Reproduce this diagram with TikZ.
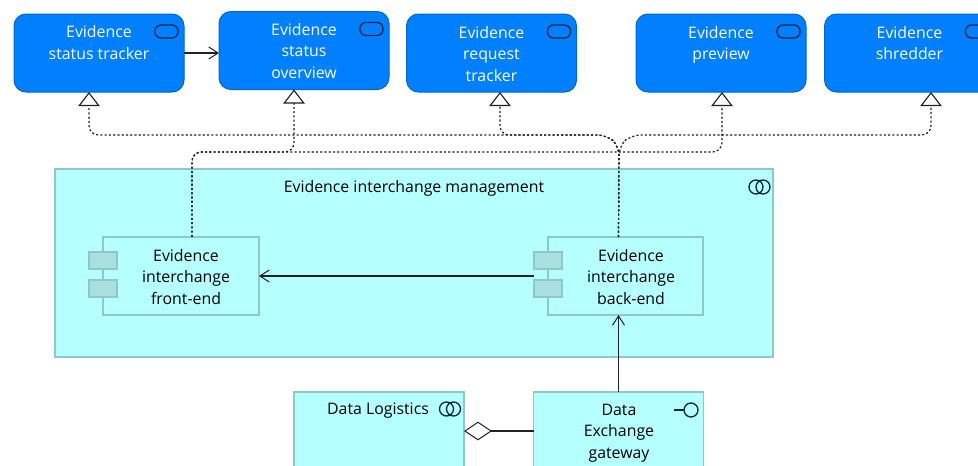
\documentclass[tikz,border=0pt]{standalone}
\usepackage{fontspec}
\setmainfont{Open Sans}
\usetikzlibrary{arrows.meta,calc}
\definecolor{svcblue}{HTML}{0080FF}
\definecolor{svcedge}{HTML}{0066CC}
\definecolor{lightcyan}{HTML}{B5FFFF}
\definecolor{cyanedge}{HTML}{90C8C8}
\definecolor{portfill}{HTML}{A8E0E0}
\definecolor{linedark}{HTML}{222222}
\definecolor{icondark}{HTML}{0B2545}
\newcommand{\svcicon}[1]{\draw[iconline,rounded corners=4.5pt] ([shift={(-29,11)}]#1.north east) rectangle ++(23,13);}
\newcommand{\collabicon}[2]{\draw[iconline] (#1-3.5,#2) circle[radius=7] (#1+3.5,#2) circle[radius=7];}
\tikzset{
  x=0.75pt,y=-0.75pt,
  every node/.style={font=\fontsize{11.9}{16.25}\selectfont,align=center,inner sep=0pt,outer sep=0pt},
  svc/.style={draw=svcedge,fill=svcblue,line width=0.75pt,rounded corners=9pt,minimum width=127.5pt,minimum height=58.5pt},
  boxcyan/.style={draw=cyanedge,fill=lightcyan,line width=0.9pt},
  port/.style={draw=cyanedge,fill=portfill,line width=0.9pt,minimum width=21pt,minimum height=12.75pt},
  whitetext/.style={text=white,anchor=center},
  darktext/.style={text=black,anchor=center},
  iconline/.style={draw=icondark,line width=1pt},
  flow/.style={draw=linedark,line width=0.8pt,-{Straight Barb[length=7pt,width=9pt,line width=0.75pt]}},
  real/.style={draw=linedark,line width=0.9pt,dash pattern=on 1.6pt off 1.6pt,rounded corners=7pt,
    -{Triangle[open,fill=white,length=10.5pt,width=16pt,line width=0.85pt]}},
  agg/.style={draw=linedark,line width=0.8pt,-{Diamond[open,fill=white,length=21pt,width=14pt,line width=0.75pt]}},
}
\begin{document}
\begin{tikzpicture}
\clip (0,0) rectangle (978,465);
% services
\node[svc] (tracker) at (99,53) {};
\node[svc] (overview) at (304,50.5) {};
\node[svc] (request) at (491.5,53) {};
\node[svc] (preview) at (721,53) {};
\node[svc] (shredder) at (909.5,53) {};
\svcicon{tracker}\svcicon{overview}\svcicon{request}\svcicon{preview}\svcicon{shredder}
\node[whitetext] (t1) at (99,42.5) {Evidence\\status tracker};
\node[whitetext] (t2) at (304,51) {Evidence\\status\\overview};
\node[whitetext] (t3) at (491.5,54) {Evidence\\request\\tracker};
\node[whitetext] (t4) at (721,45) {Evidence\\preview};
\node[whitetext] (t5) at (909.5,43) {Evidence\\shredder};
% collaboration
\node[boxcyan,minimum width=538.5pt,minimum height=141pt] (mgmt) at (414,263) {};
\node[darktext] (mgmtlabel) at (414,188) {Evidence interchange management};
\collabicon{759.5}{187}
% components
\node[boxcyan,minimum width=117pt,minimum height=58.5pt] (front) at (181,276) {};
\node[port] (fp1) at (103,260.5) {};
\node[port] (fp2) at (103,288.5) {};
\node[darktext] (frontlabel) at (186,277) {Evidence\\interchange\\front-end};
\node[boxcyan,minimum width=116.25pt,minimum height=58.5pt] (back) at (625.5,276) {};
\node[port] (bp1) at (548,260.5) {};
\node[port] (bp2) at (548,288.5) {};
\node[darktext] (backlabel) at (631,277) {Evidence\\interchange\\back-end};
% bottom row
\node[boxcyan,minimum width=127.5pt,minimum height=58.5pt] (logistics) at (379,431) {};
\node[darktext] (loglabel) at (378,411) {Data Logistics};
\collabicon{450}{409}
\node[boxcyan,minimum width=127.5pt,minimum height=58.5pt] (gateway) at (618.5,431) {};
\node[darktext] (gatelabel) at (619,433) {Data\\Exchange\\gateway};
\draw[iconline] (674,410) -- (684,410);
\draw[iconline] (691,410) circle[radius=7];
% connectors
\draw[flow] (tracker.east) -- (tracker.east -| overview.west);
\draw[flow] ([shift={(-14,0)}]back.west) -- (front.east);
\draw[flow] (gateway.north) -- (gateway.north |- back.south);
\draw[agg] (gateway.west) -- (logistics.east);
% realisation from back-end
\coordinate (bn) at (back.north -| gateway.north);
\coordinate (fn) at ([shift={(11,0)}]front.north);
\draw[real] (bn) -- (619,146) -- (607,135) -- (89,135) -- ([shift={(-10,0)}]tracker.south);
\draw[real] (bn) -- (619,146) -- (607,135) -- (500,135) -- ([shift={(8.5,0)}]request.south);
\draw[real] (bn) -- (619,146) -- (631,135) -- (931,135) -- ([shift={(21.5,0)}]shredder.south);
% realisation from front-end
\draw[real] (fn) -- (192,152) -- (294,152) -- ([shift={(-10,0)}]overview.south);
\draw[real] (fn) -- (192,152) -- (722,152) -- ([shift={(1,0)}]preview.south);
\end{tikzpicture}
\end{document}
